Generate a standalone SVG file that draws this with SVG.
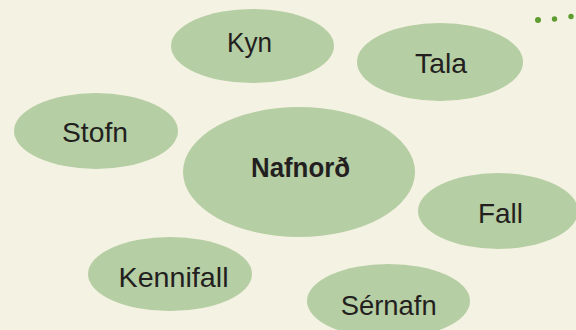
<svg xmlns="http://www.w3.org/2000/svg" width="576" height="330" viewBox="0 0 576 330">
<style>
.bg{fill:#f4f2e2}
.n{fill:#b5cea3}
.t{font-family:"Liberation Sans",Arial,sans-serif;font-size:28px;fill:#231f20;text-anchor:middle}
.b{font-weight:bold}
.d{fill:#5e9c2f}
</style>
<rect class="bg" x="0" y="0" width="576" height="330"/>
<g id="connectors"></g>
<g id="dots">
<circle class="d" cx="538" cy="20" r="3"/>
<circle class="d" cx="554.5" cy="19" r="2.7"/>
<circle class="d" cx="571" cy="16.5" r="2.7"/>
</g>
<g id="node-kyn"><ellipse class="n" cx="252.5" cy="46" rx="81.5" ry="37"/><text class="t" x="249.5" y="52" textLength="45" lengthAdjust="spacingAndGlyphs">Kyn</text></g>
<g id="node-tala"><ellipse class="n" cx="440" cy="62" rx="83" ry="39"/><text class="t" x="441" y="73" textLength="52" lengthAdjust="spacingAndGlyphs">Tala</text></g>
<g id="node-stofn"><ellipse class="n" cx="96" cy="131" rx="82" ry="38"/><text class="t" x="95" y="141.5" textLength="66" lengthAdjust="spacingAndGlyphs">Stofn</text></g>
<g id="node-nafnord"><ellipse class="n" cx="299" cy="172" rx="116" ry="65"/><text class="t b" x="300.5" y="176.5" textLength="99" lengthAdjust="spacingAndGlyphs">Nafnorð</text></g>
<g id="node-fall"><ellipse class="n" cx="498" cy="211" rx="80" ry="38"/><text class="t" x="500.5" y="222.5" textLength="45" lengthAdjust="spacingAndGlyphs">Fall</text></g>
<g id="node-kennifall"><ellipse class="n" cx="170" cy="274" rx="82" ry="37"/><text class="t" x="173.5" y="286.5" textLength="110" lengthAdjust="spacingAndGlyphs">Kennifall</text></g>
<g id="node-sernafn"><ellipse class="n" cx="388.5" cy="301" rx="81.5" ry="37"/><text class="t" x="388.7" y="315" textLength="96" lengthAdjust="spacingAndGlyphs">Sérnafn</text></g>
</svg>
